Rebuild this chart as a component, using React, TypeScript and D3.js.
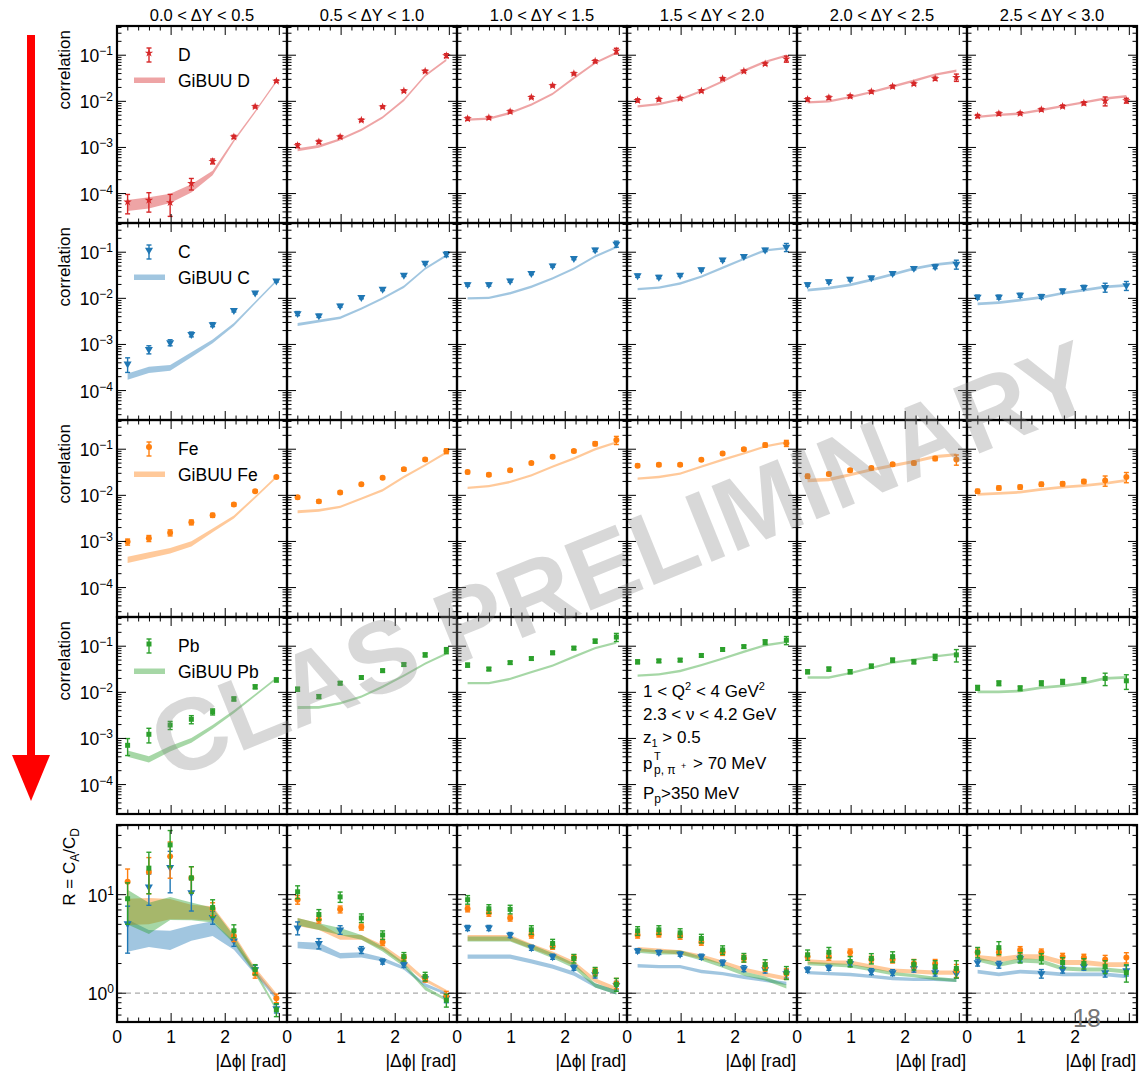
import React from "react";
import * as d3 from "d3";

const FONT = "'Liberation Sans', Arial, Helvetica, sans-serif";

// ---------- binning ----------
const dyLabels = [
  "0.0 < ΔY < 0.5",
  "0.5 < ΔY < 1.0",
  "1.0 < ΔY < 1.5",
  "1.5 < ΔY < 2.0",
  "2.0 < ΔY < 2.5",
  "2.5 < ΔY < 3.0",
];
// |Δφ| bin centres [rad]
const dphi = [0.196, 0.589, 0.982, 1.374, 1.767, 2.16, 2.553, 2.945];

// ---------- correlations: data (one array per ΔY bin) ----------
const corrD = [
  [6.6e-5, 7.2e-5, 6.4e-5, 1.66e-4, 5.0e-4, 1.7e-3, 7.7e-3, 2.75e-2],
  [1.1e-3, 1.32e-3, 1.7e-3, 3.9e-3, 7.6e-3, 1.68e-2, 4.5e-2, 9.8e-2],
  [4.2e-3, 4.4e-3, 6.0e-3, 1.22e-2, 2.19e-2, 4.0e-2, 7.4e-2, 0.124],
  [1.05e-2, 1.1e-2, 1.16e-2, 1.68e-2, 3.1e-2, 4.5e-2, 6.5e-2, 8.3e-2],
  [1.1e-2, 1.2e-2, 1.29e-2, 1.62e-2, 2.1e-2, 2.4e-2, 3.1e-2, 3.3e-2],
  [4.8e-3, 5.4e-3, 5.5e-3, 6.6e-3, 7.8e-3, 9.1e-3, 1.02e-2, 1.04e-2],
];
const corrDErr = [
  [0.45, 0.45, 0.5, 0.28, 0.12, 0.08, 0.06, 0.06],
  [0.1, 0.08, 0.07, 0.06, 0.06, 0.06, 0.06, 0.1],
  [0.08, 0.07, 0.07, 0.06, 0.06, 0.06, 0.07, 0.14],
  [0.08, 0.07, 0.06, 0.06, 0.06, 0.06, 0.07, 0.15],
  [0.08, 0.08, 0.07, 0.07, 0.07, 0.07, 0.08, 0.18],
  [0.08, 0.08, 0.07, 0.07, 0.07, 0.08, 0.22, 0.12],
];
const corrC = [
  [3.8e-4, 7.8e-4, 1.1e-3, 1.66e-3, 2.7e-3, 5.5e-3, 1.32e-2, 2.4e-2],
  [4.7e-3, 4.2e-3, 6.9e-3, 1.05e-2, 1.58e-2, 3.2e-2, 5.8e-2, 9.1e-2],
  [2.0e-2, 2.0e-2, 2.4e-2, 3.5e-2, 5.1e-2, 7.4e-2, 0.112, 0.151],
  [3.1e-2, 2.9e-2, 3.2e-2, 4.2e-2, 6.8e-2, 8.1e-2, 0.112, 0.129],
  [2.0e-2, 2.3e-2, 2.6e-2, 2.8e-2, 3.5e-2, 4.5e-2, 4.9e-2, 5.5e-2],
  [1.07e-2, 1.07e-2, 1.17e-2, 1.1e-2, 1.45e-2, 1.74e-2, 1.74e-2, 1.9e-2],
];
const corrCErr = [
  [0.35, 0.2, 0.15, 0.12, 0.1, 0.08, 0.06, 0.06],
  [0.1, 0.08, 0.07, 0.07, 0.07, 0.07, 0.07, 0.12],
  [0.08, 0.08, 0.07, 0.07, 0.07, 0.07, 0.08, 0.15],
  [0.08, 0.08, 0.07, 0.07, 0.07, 0.07, 0.08, 0.2],
  [0.08, 0.08, 0.08, 0.08, 0.08, 0.08, 0.1, 0.22],
  [0.1, 0.1, 0.1, 0.1, 0.1, 0.1, 0.22, 0.22],
];
const corrFe = [
  [9.8e-4, 1.17e-3, 1.55e-3, 2.6e-3, 3.7e-3, 6.3e-3, 1.23e-2, 2.5e-2],
  [9.1e-3, 7.4e-3, 1.15e-2, 1.74e-2, 2.4e-2, 3.7e-2, 6.0e-2, 9.1e-2],
  [3.2e-2, 2.8e-2, 3.5e-2, 5.0e-2, 6.9e-2, 9.1e-2, 0.132, 0.158],
  [4.4e-2, 4.6e-2, 4.6e-2, 5.9e-2, 8.1e-2, 0.1, 0.123, 0.135],
  [2.6e-2, 2.9e-2, 3.5e-2, 3.9e-2, 4.7e-2, 5.0e-2, 6.3e-2, 6.0e-2],
  [1.23e-2, 1.45e-2, 1.51e-2, 1.74e-2, 1.78e-2, 2.0e-2, 2.1e-2, 2.5e-2],
];
const corrFeErr = [
  [0.15, 0.15, 0.15, 0.12, 0.1, 0.08, 0.06, 0.06],
  [0.08, 0.08, 0.07, 0.07, 0.07, 0.07, 0.07, 0.12],
  [0.08, 0.08, 0.07, 0.07, 0.07, 0.07, 0.1, 0.2],
  [0.08, 0.08, 0.07, 0.07, 0.07, 0.07, 0.1, 0.15],
  [0.1, 0.08, 0.08, 0.08, 0.08, 0.08, 0.1, 0.25],
  [0.1, 0.1, 0.1, 0.1, 0.1, 0.1, 0.25, 0.25],
];
const corrPb = [
  [7.1e-4, 1.23e-3, 1.95e-3, 2.6e-3, 3.8e-3, 7.2e-3, 1.32e-2, 1.86e-2],
  [1.17e-2, 8.1e-3, 1.58e-2, 2.1e-2, 2.95e-2, 4.0e-2, 6.5e-2, 8.1e-2],
  [3.9e-2, 3.2e-2, 4.4e-2, 5.4e-2, 7.2e-2, 9.1e-2, 0.129, 0.158],
  [4.6e-2, 4.8e-2, 5.0e-2, 6.3e-2, 8.5e-2, 9.8e-2, 0.123, 0.135],
  [2.8e-2, 3.2e-2, 2.8e-2, 3.7e-2, 5.0e-2, 4.6e-2, 5.8e-2, 6.5e-2],
  [1.26e-2, 1.58e-2, 1.23e-2, 1.58e-2, 1.7e-2, 1.86e-2, 2.0e-2, 1.78e-2],
];
const corrPbErr = [
  [0.4, 0.35, 0.2, 0.2, 0.15, 0.1, 0.1, 0.1],
  [0.1, 0.1, 0.08, 0.08, 0.08, 0.08, 0.1, 0.15],
  [0.1, 0.08, 0.08, 0.08, 0.08, 0.08, 0.1, 0.2],
  [0.1, 0.08, 0.08, 0.08, 0.08, 0.08, 0.12, 0.2],
  [0.1, 0.1, 0.1, 0.1, 0.1, 0.1, 0.15, 0.3],
  [0.12, 0.12, 0.12, 0.12, 0.12, 0.12, 0.3, 0.35],
];

// ---------- correlations: GiBUU (central value, log-symmetric band half-width) ----------
const gibuuD = [
  [5.5e-5, 6.3e-5, 7.9e-5, 1.29e-4, 2.8e-4, 1.4e-3, 6.0e-3, 2.7e-2],
  [8.9e-4, 1.05e-3, 1.5e-3, 2.4e-3, 4.5e-3, 1.07e-2, 3.6e-2, 7.9e-2],
  [4.0e-3, 4.2e-3, 5.6e-3, 8.5e-3, 1.45e-2, 3.2e-2, 6.8e-2, 0.112],
  [7.8e-3, 8.7e-3, 1.1e-2, 1.66e-2, 2.7e-2, 4.6e-2, 7.2e-2, 9.8e-2],
  [9.5e-3, 1.0e-2, 1.23e-2, 1.58e-2, 2.1e-2, 2.8e-2, 3.8e-2, 4.6e-2],
  [4.6e-3, 5.1e-3, 5.4e-3, 6.5e-3, 7.9e-3, 9.5e-3, 1.15e-2, 1.29e-2],
];
const gibuuDW = [
  [0.32, 0.32, 0.26, 0.23, 0.12, 0.07, 0.06, 0.06],
  [0.08, 0.07, 0.06, 0.06, 0.06, 0.06, 0.06, 0.06],
  [0.06, 0.06, 0.06, 0.06, 0.06, 0.06, 0.06, 0.06],
  [0.06, 0.06, 0.06, 0.06, 0.06, 0.06, 0.06, 0.06],
  [0.06, 0.06, 0.06, 0.06, 0.06, 0.06, 0.06, 0.06],
  [0.06, 0.06, 0.06, 0.06, 0.06, 0.06, 0.06, 0.06],
];
const gibuuC = [
  [2.0e-4, 2.8e-4, 3.1e-4, 6.0e-4, 1.17e-3, 2.7e-3, 8.1e-3, 2.4e-2],
  [2.7e-3, 3.2e-3, 3.8e-3, 6.0e-3, 1.0e-2, 1.78e-2, 4.4e-2, 8.5e-2],
  [1.0e-2, 1.02e-2, 1.29e-2, 1.78e-2, 2.7e-2, 4.4e-2, 8.1e-2, 0.129],
  [1.58e-2, 1.7e-2, 2.1e-2, 2.95e-2, 4.6e-2, 7.2e-2, 0.11, 0.123],
  [1.51e-2, 1.66e-2, 1.95e-2, 2.5e-2, 3.3e-2, 4.4e-2, 5.4e-2, 6.0e-2],
  [7.6e-3, 8.1e-3, 9.1e-3, 1.05e-2, 1.29e-2, 1.51e-2, 1.78e-2, 1.9e-2],
];
const gibuuCW = [
  [0.17, 0.17, 0.15, 0.13, 0.1, 0.08, 0.06, 0.06],
  [0.08, 0.07, 0.06, 0.06, 0.06, 0.06, 0.06, 0.06],
  [0.06, 0.06, 0.06, 0.06, 0.06, 0.06, 0.06, 0.06],
  [0.06, 0.06, 0.06, 0.06, 0.06, 0.06, 0.06, 0.06],
  [0.07, 0.07, 0.07, 0.07, 0.07, 0.07, 0.07, 0.07],
  [0.07, 0.07, 0.07, 0.07, 0.07, 0.07, 0.07, 0.07],
];
const gibuuFe = [
  [4.0e-4, 5.0e-4, 6.3e-4, 8.9e-4, 1.74e-3, 3.4e-3, 9.1e-3, 2.5e-2],
  [4.4e-3, 4.7e-3, 5.6e-3, 8.5e-3, 1.29e-2, 2.5e-2, 4.5e-2, 8.5e-2],
  [1.45e-2, 1.58e-2, 1.95e-2, 2.7e-2, 4.2e-2, 6.3e-2, 0.1, 0.141],
  [2.3e-2, 2.5e-2, 2.95e-2, 4.2e-2, 5.9e-2, 8.1e-2, 0.115, 0.141],
  [2.1e-2, 2.2e-2, 2.8e-2, 3.6e-2, 4.4e-2, 5.4e-2, 6.9e-2, 7.6e-2],
  [1.05e-2, 1.1e-2, 1.17e-2, 1.35e-2, 1.51e-2, 1.62e-2, 1.82e-2, 2.1e-2],
];
const gibuuFeW = [
  [0.17, 0.16, 0.15, 0.14, 0.1, 0.08, 0.06, 0.06],
  [0.08, 0.07, 0.06, 0.06, 0.06, 0.06, 0.06, 0.06],
  [0.06, 0.06, 0.06, 0.06, 0.06, 0.06, 0.06, 0.06],
  [0.06, 0.06, 0.06, 0.06, 0.06, 0.06, 0.06, 0.06],
  [0.09, 0.09, 0.08, 0.08, 0.08, 0.08, 0.08, 0.08],
  [0.07, 0.07, 0.07, 0.07, 0.07, 0.07, 0.07, 0.07],
];
const gibuuPb = [
  [4.7e-4, 3.5e-4, 6.0e-4, 9.1e-4, 1.78e-3, 3.8e-3, 8.7e-3, 2.0e-2],
  [4.7e-3, 4.7e-3, 5.8e-3, 8.1e-3, 1.32e-2, 2.3e-2, 4.2e-2, 6.9e-2],
  [1.58e-2, 1.58e-2, 1.95e-2, 2.75e-2, 3.8e-2, 5.9e-2, 9.1e-2, 0.12],
  [2.3e-2, 2.45e-2, 2.9e-2, 3.9e-2, 5.4e-2, 7.6e-2, 0.105, 0.123],
  [2.1e-2, 2.1e-2, 2.6e-2, 3.4e-2, 4.4e-2, 5.1e-2, 6.0e-2, 6.8e-2],
  [1.02e-2, 1.02e-2, 1.07e-2, 1.26e-2, 1.38e-2, 1.58e-2, 2.0e-2, 2.1e-2],
];
const gibuuPbW = [
  [0.17, 0.17, 0.15, 0.13, 0.1, 0.08, 0.06, 0.06],
  [0.08, 0.07, 0.06, 0.06, 0.06, 0.06, 0.06, 0.06],
  [0.06, 0.06, 0.06, 0.06, 0.06, 0.06, 0.06, 0.06],
  [0.06, 0.06, 0.06, 0.06, 0.06, 0.06, 0.06, 0.06],
  [0.06, 0.06, 0.06, 0.06, 0.06, 0.06, 0.06, 0.06],
  [0.07, 0.07, 0.07, 0.07, 0.07, 0.07, 0.07, 0.07],
];

// ---------- ratios R = C_A / C_D ----------
const ratioC = [
  [5.1, 12, 19, 10.5, 5.9, 3.4, 1.74, 0.7],
  [4.6, 3.2, 4.4, 2.75, 2.1, 1.95, 1.41, 0.89],
  [4.6, 4.6, 3.9, 2.9, 2.35, 1.82, 1.55, 1.2],
  [2.7, 2.6, 2.5, 2.35, 2.05, 1.78, 1.74, 1.58],
  [1.74, 1.82, 2.0, 1.66, 1.62, 1.78, 1.62, 1.58],
  [2.05, 1.95, 2.25, 1.58, 1.74, 1.86, 1.62, 1.7],
];
const ratioCErr = [
  [0.5, 0.35, 0.45, 0.35, 0.15, 0.12, 0.1, 0.1],
  [0.15, 0.12, 0.1, 0.08, 0.06, 0.06, 0.06, 0.1],
  [0.06, 0.06, 0.06, 0.06, 0.06, 0.06, 0.08, 0.1],
  [0.05, 0.05, 0.05, 0.06, 0.06, 0.07, 0.08, 0.1],
  [0.06, 0.06, 0.06, 0.07, 0.07, 0.08, 0.08, 0.1],
  [0.08, 0.08, 0.08, 0.1, 0.08, 0.08, 0.1, 0.12],
];
const ratioFe = [
  [13.5, 17, 24.5, 14.8, 7.2, 3.8, 1.58, 0.89],
  [8.9, 5.6, 7.1, 4.7, 3.3, 2.3, 1.41, 0.95],
  [7.2, 6.5, 5.8, 3.9, 3.0, 2.3, 1.66, 1.26],
  [3.9, 4.0, 3.8, 3.3, 2.6, 2.25, 1.86, 1.58],
  [2.35, 2.35, 2.6, 2.2, 2.2, 2.0, 2.0, 1.7],
  [2.6, 2.6, 2.75, 2.6, 2.35, 2.3, 2.2, 2.3],
];
const ratioFeErr = [
  [0.35, 0.4, 0.4, 0.3, 0.15, 0.12, 0.1, 0.1],
  [0.1, 0.08, 0.08, 0.07, 0.07, 0.07, 0.08, 0.1],
  [0.07, 0.07, 0.07, 0.07, 0.07, 0.07, 0.08, 0.12],
  [0.07, 0.07, 0.07, 0.07, 0.07, 0.08, 0.1, 0.12],
  [0.08, 0.08, 0.08, 0.08, 0.08, 0.1, 0.1, 0.15],
  [0.08, 0.08, 0.08, 0.08, 0.08, 0.08, 0.1, 0.12],
];
const ratioPb = [
  [9.1, 18.6, 32, 14.8, 7.4, 4.3, 1.74, 0.68],
  [10.7, 6.3, 9.5, 5.8, 3.9, 2.35, 1.48, 0.85],
  [8.9, 7.2, 7.1, 4.4, 3.2, 2.25, 1.66, 1.23],
  [4.3, 4.4, 4.1, 3.6, 2.75, 2.3, 1.95, 1.62],
  [2.45, 2.6, 2.1, 2.25, 2.35, 1.95, 1.86, 1.78],
  [2.6, 2.9, 2.3, 2.25, 2.05, 2.0, 1.86, 1.62],
];
const ratioPbErr = [
  [0.45, 0.45, 0.4, 0.3, 0.2, 0.15, 0.12, 0.15],
  [0.15, 0.12, 0.12, 0.1, 0.1, 0.1, 0.1, 0.15],
  [0.1, 0.1, 0.1, 0.1, 0.1, 0.1, 0.1, 0.15],
  [0.1, 0.1, 0.1, 0.1, 0.1, 0.1, 0.12, 0.15],
  [0.12, 0.12, 0.12, 0.12, 0.12, 0.12, 0.15, 0.2],
  [0.12, 0.15, 0.12, 0.12, 0.12, 0.12, 0.15, 0.2],
];
const ratioGibuuC = [
  [3.84, 3.6, 3.44, 4.08, 4.53, 3.06, 1.64, 0.89],
  [3.09, 2.99, 2.4, 2.45, 2.2, 1.8, 1.21, 0.99],
  [2.35, 2.35, 2.35, 2.1, 1.86, 1.58, 1.2, 1.02],
  [1.9, 1.86, 1.86, 1.66, 1.58, 1.45, 1.35, 1.26],
  [1.62, 1.58, 1.55, 1.48, 1.41, 1.38, 1.38, 1.35],
  [1.66, 1.55, 1.66, 1.62, 1.55, 1.55, 1.55, 1.48],
];
const ratioGibuuCW = [
  [0.46, 0.22, 0.25, 0.2, 0.19, 0.11, 0.06, 0.05],
  [0.08, 0.09, 0.065, 0.065, 0.05, 0.04, 0.04, 0.035],
  [0.05, 0.05, 0.05, 0.05, 0.05, 0.05, 0.05, 0.05],
  [0.04, 0.04, 0.04, 0.04, 0.04, 0.04, 0.04, 0.04],
  [0.04, 0.04, 0.04, 0.04, 0.04, 0.04, 0.04, 0.04],
  [0.045, 0.045, 0.045, 0.045, 0.045, 0.045, 0.045, 0.045],
];
const ratioGibuuFe = [
  [6.68, 6.82, 7.14, 6.65, 6.47, 3.63, 1.7, 0.95],
  [5.28, 4.74, 3.69, 3.69, 2.92, 2.07, 1.36, 1.045],
  [3.65, 3.65, 3.65, 3.0, 2.5, 2.0, 1.35, 1.1],
  [2.8, 2.7, 2.6, 2.35, 2.05, 1.74, 1.55, 1.41],
  [2.1, 2.05, 2.05, 1.86, 1.7, 1.66, 1.62, 1.62],
  [2.3, 2.2, 2.35, 2.35, 2.05, 2.05, 1.95, 1.95],
];
const ratioGibuuFeW = [
  [0.36, 0.36, 0.27, 0.19, 0.18, 0.1, 0.07, 0.05],
  [0.1, 0.08, 0.055, 0.055, 0.06, 0.06, 0.04, 0.035],
  [0.07, 0.07, 0.07, 0.06, 0.06, 0.06, 0.05, 0.05],
  [0.05, 0.05, 0.05, 0.05, 0.05, 0.05, 0.05, 0.05],
  [0.05, 0.05, 0.05, 0.05, 0.05, 0.05, 0.05, 0.05],
  [0.06, 0.06, 0.06, 0.06, 0.06, 0.06, 0.06, 0.06],
];
const ratioGibuuPb = [
  [7.48, 5.76, 7.23, 6.76, 6.2, 3.49, 1.64, 0.69],
  [5.33, 4.74, 4.24, 3.69, 2.8, 1.95, 1.12, 0.86],
  [3.55, 3.55, 3.55, 2.95, 2.4, 1.9, 1.2, 1.02],
  [2.7, 2.6, 2.6, 2.25, 1.9, 1.58, 1.41, 1.17],
  [2.0, 1.95, 1.9, 1.74, 1.58, 1.51, 1.41, 1.35],
  [2.2, 1.95, 2.15, 2.1, 1.78, 1.74, 1.74, 1.66],
];
const ratioGibuuPbW = [
  [0.5, 0.44, 0.31, 0.23, 0.19, 0.09, 0.06, 0.04],
  [0.09, 0.08, 0.085, 0.055, 0.055, 0.05, 0.045, 0.035],
  [0.06, 0.06, 0.06, 0.06, 0.06, 0.06, 0.05, 0.05],
  [0.05, 0.05, 0.05, 0.05, 0.05, 0.05, 0.05, 0.05],
  [0.04, 0.04, 0.04, 0.04, 0.04, 0.04, 0.04, 0.04],
  [0.05, 0.05, 0.05, 0.05, 0.05, 0.05, 0.05, 0.05],
];

// ---------- styling ----------
const COLORS: Record<string, string> = { D: "#d62728", C: "#1f77b4", Fe: "#ff7f0e", Pb: "#2ca02c" };
const SHAPES: Record<string, string> = { D: "star", C: "tri", Fe: "circle", Pb: "square" };

const corrRows = [
  { name: "D", pts: corrD, err: corrDErr, model: gibuuD, w: gibuuDW },
  { name: "C", pts: corrC, err: corrCErr, model: gibuuC, w: gibuuCW },
  { name: "Fe", pts: corrFe, err: corrFeErr, model: gibuuFe, w: gibuuFeW },
  { name: "Pb", pts: corrPb, err: corrPbErr, model: gibuuPb, w: gibuuPbW },
];
const ratioSets = [
  { name: "C", pts: ratioC, err: ratioCErr, model: ratioGibuuC, w: ratioGibuuCW },
  { name: "Fe", pts: ratioFe, err: ratioFeErr, model: ratioGibuuFe, w: ratioGibuuFeW },
  { name: "Pb", pts: ratioPb, err: ratioPbErr, model: ratioGibuuPb, w: ratioGibuuPbW },
];

// ---------- layout ----------
const X0 = 117;
const PW = 170;
const PH = 197;
const corrTops = [26, 223, 420, 617];
const ratioTop = 825;

const xS = d3.scaleLinear().domain([0, Math.PI]).range([0, PW]);
const yCorr = d3.scaleLog().domain([2.3e-5, 0.43]).range([PH, 0]);
const yRatio = d3.scaleLog().domain([0.51, 51]).range([PH, 0]);

const symbolPaths: Record<string, string> = {
  star: d3.symbol(d3.symbolStar, 22)() as string,
  tri: d3.symbol(d3.symbolTriangle, 28)() as string,
  circle: d3.symbol(d3.symbolCircle, 28)() as string,
  square: d3.symbol(d3.symbolSquare, 25)() as string,
};

function logTicks(scale: any) {
  const [a, b] = scale.domain();
  const out: { v: number; major: boolean }[] = [];
  for (let e = Math.floor(Math.log10(a)); e <= Math.ceil(Math.log10(b)); e++) {
    for (let k = 1; k <= 9; k++) {
      const v = k * Math.pow(10, e);
      if (v >= a && v <= b) out.push({ v, major: k === 1 });
    }
  }
  return out;
}
const xTickVals = d3.range(0, 16).map((i) => i * 0.2);

function Frame({ y }: { y: any }) {
  const yt = logTicks(y);
  return (
    <g>
      {yt.map((t, i) => {
        const yy = y(t.v);
        const L = t.major ? 9 : 4.5;
        return (
          <g key={"y" + i} stroke="#000" strokeWidth={1}>
            <line x1={0} x2={L} y1={yy} y2={yy} />
            <line x1={PW} x2={PW - L} y1={yy} y2={yy} />
          </g>
        );
      })}
      {xTickVals.map((v, i) => {
        const xx = xS(v);
        const major = Math.abs(v - Math.round(v)) < 1e-6;
        const L = major ? 9 : 4.5;
        return (
          <g key={"x" + i} stroke="#000" strokeWidth={1}>
            <line x1={xx} x2={xx} y1={PH} y2={PH - L} />
            <line x1={xx} x2={xx} y1={0} y2={L} />
          </g>
        );
      })}
      <rect x={0} y={0} width={PW} height={PH} fill="none" stroke="#000" strokeWidth={2.2} />
    </g>
  );
}

function Band({ model, w, y, color }: { model: number[]; w: number[]; y: any; color: string }) {
  const area = d3
    .area<number>()
    .x((_, i) => xS(dphi[i]))
    .y0((m, i) => y(m / (1 + w[i])))
    .y1((m, i) => y(m * (1 + w[i])));
  return <path d={area(model) as string} fill={color} fillOpacity={0.42} stroke="none" />;
}

function Points({ vals, errs, y, name }: { vals: number[]; errs: number[]; y: any; name: string }) {
  const color = COLORS[name];
  const shape = SHAPES[name];
  return (
    <g>
      {vals.map((v, i) => {
        const cx = xS(dphi[i]);
        const cy = y(v);
        const yHi = y(v * (1 + errs[i]));
        const yLo = y(v * (1 - errs[i]));
        return (
          <g key={i}>
            <g stroke={color} strokeWidth={1.4}>
              <line x1={cx} x2={cx} y1={yLo} y2={yHi} />
              <line x1={cx - 2.5} x2={cx + 2.5} y1={yLo} y2={yLo} />
              <line x1={cx - 2.5} x2={cx + 2.5} y1={yHi} y2={yHi} />
            </g>
            <path
              d={symbolPaths[shape]}
              transform={`translate(${cx},${cy})${shape === "tri" ? " rotate(180)" : ""}`}
              fill={color}
            />
          </g>
        );
      })}
    </g>
  );
}

function Pow10({ x, y, exp, size = 17.5 }: { x: number; y: number; exp: string; size?: number }) {
  return (
    <text x={x} y={y} textAnchor="end" fontSize={size}>
      10
      <tspan dy={-7} fontSize={12}>
        {exp}
      </tspan>
    </text>
  );
}

export default function App() {
  const corrExps = [
    { v: 1e-1, e: "−1" },
    { v: 1e-2, e: "−2" },
    { v: 1e-3, e: "−3" },
    { v: 1e-4, e: "−4" },
  ];
  return (
    <svg
      width={1140}
      height={1080}
      viewBox="0 0 1140 1080"
      style={{ position: "absolute", left: 0, top: 0, background: "#fff" }}
      fontFamily={FONT}
    >
      <rect width={1140} height={1080} fill="#fff" />

      {/* red arrow along the nuclear-size axis */}
      <rect x={27} y={35} width={8} height={722} fill="#ff0000" />
      <path d="M12,755 L50,755 L31,801 Z" fill="#ff0000" />

      {/* column titles */}
      {dyLabels.map((t, c) => (
        <text key={t} x={X0 + c * PW + PW / 2} y={21} textAnchor="middle" fontSize={16.5}>
          {t}
        </text>
      ))}

      {/* correlation rows */}
      {corrRows.map((row, r) => {
        const top = corrTops[r];
        const color = COLORS[row.name];
        return (
          <g key={row.name}>
            {dyLabels.map((_, c) => (
              <g key={c} transform={`translate(${X0 + c * PW},${top})`}>
                <Band model={row.model[c]} w={row.w[c]} y={yCorr} color={color} />
                <Points vals={row.pts[c]} errs={row.err[c]} y={yCorr} name={row.name} />
                <Frame y={yCorr} />
              </g>
            ))}
            {/* y axis label + tick labels */}
            <text transform={`translate(70,${top + 4}) rotate(-90)`} textAnchor="end" fontSize={17}>
              correlation
            </text>
            {corrExps.map((t) => (
              <Pow10 key={t.e} x={113} y={top + yCorr(t.v) + 7} exp={t.e} />
            ))}
            {/* legend */}
            <g stroke={color} strokeWidth={1.4}>
              <line x1={149} x2={149} y1={top + 22} y2={top + 36} />
              <line x1={146.5} x2={151.5} y1={top + 22} y2={top + 22} />
              <line x1={146.5} x2={151.5} y1={top + 36} y2={top + 36} />
            </g>
            <path
              d={symbolPaths[SHAPES[row.name]]}
              transform={`translate(149,${top + 27})${SHAPES[row.name] === "tri" ? " rotate(180)" : ""}`}
              fill={color}
            />
            <text x={178} y={top + 35} fontSize={17.5}>
              {row.name}
            </text>
            <rect x={134} y={top + 51.5} width={31} height={5.5} fill={color} fillOpacity={0.42} />
            <text x={178} y={top + 61} fontSize={17.5}>
              {"GiBUU " + row.name}
            </text>
          </g>
        );
      })}

      {/* ratio row */}
      {dyLabels.map((_, c) => (
        <g key={"r" + c} transform={`translate(${X0 + c * PW},${ratioTop})`}>
          <line
            x1={0}
            x2={PW}
            y1={yRatio(1)}
            y2={yRatio(1)}
            stroke="#aaa"
            strokeWidth={1.3}
            strokeDasharray="5,4"
          />
          {ratioSets.map((s) => (
            <Band key={s.name} model={s.model[c]} w={s.w[c]} y={yRatio} color={COLORS[s.name]} />
          ))}
          {ratioSets.map((s) => (
            <Points key={s.name} vals={s.pts[c]} errs={s.err[c]} y={yRatio} name={s.name} />
          ))}
          <Frame y={yRatio} />
          {[0, 1, 2].map((v) => (
            <text key={v} x={xS(v)} y={1043 - ratioTop} textAnchor="middle" fontSize={17.5}>
              {v}
            </text>
          ))}
          <text x={PW - 1} y={1067 - ratioTop} textAnchor="end" fontSize={17.5}>
            |Δϕ| [rad]
          </text>
        </g>
      ))}
      <Pow10 x={114} y={ratioTop + yRatio(10) + 7} exp="1" />
      <Pow10 x={114} y={ratioTop + yRatio(1) + 7} exp="0" />
      <text transform={`translate(75,${ratioTop + 3}) rotate(-90)`} textAnchor="end" fontSize={17}>
        R = C
        <tspan dy={4} fontSize={12}>A</tspan>
        <tspan dy={-4}>/C</tspan>
        <tspan dy={4} fontSize={12}>D</tspan>
      </text>

      {/* kinematic cuts */}
      <g fontSize={17}>
        <text x={643} y={697}>
          1 &lt; Q<tspan dy={-7} fontSize={11}>2</tspan>
          <tspan dy={7}> &lt; 4 GeV</tspan>
          <tspan dy={-7} fontSize={11}>2</tspan>
        </text>
        <text x={643} y={720}>2.3 &lt; ν &lt; 4.2 GeV</text>
        <text x={643} y={743}>
          z<tspan dy={4} fontSize={11}>1</tspan>
          <tspan dy={-4}> &gt; 0.5</tspan>
        </text>
        <text x={643} y={769}>p</text>
        <text x={654} y={760} fontSize={11}>T</text>
        <text x={654} y={774} fontSize={12}>p, π</text>
        <text x={681} y={769} fontSize={9}>+</text>
        <text x={693} y={769}>&gt; 70 MeV</text>
        <text x={643} y={799}>
          P<tspan dy={4} fontSize={12}>p</tspan>
          <tspan dy={-4}>&gt;350 MeV</tspan>
        </text>
      </g>

      {/* page number */}
      <text x={1073} y={1027} fontSize={25} fill="#777">
        18
      </text>

      {/* preliminary watermark */}
      <text
        transform="translate(622,560) rotate(-22)"
        textAnchor="middle"
        dominantBaseline="central"
        fontSize={102}
        fontWeight="bold"
        fill="#8a8a8a"
        fillOpacity={0.33}
      >
        CLAS PRELIMINARY
      </text>
    </svg>
  );
}
